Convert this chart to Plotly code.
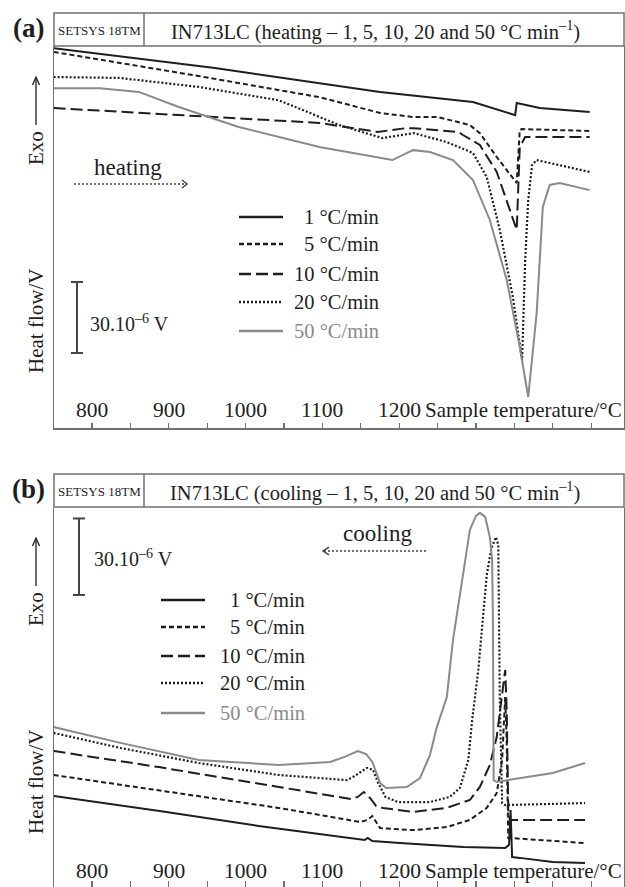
import plotly.graph_objects as go

W, H = 625, 887

# ---------------- data: temperature (°C) and heat flow (µV, relative) ----------------
rates = ["1 °C/min", "5 °C/min", "10 °C/min", "20 °C/min", "50 °C/min"]

# (a) heating
heat_T_1 = [750, 960, 1175, 1250, 1296, 1351, 1353, 1383, 1448]
heat_V_1 = [160.5, 152.1, 142.0, 139.4, 137.7, 132.2, 137.3, 135.2, 133.5]
heat_T_5 = [750, 939, 1096, 1175, 1218, 1250, 1292, 1305, 1327, 1348, 1353, 1357, 1360, 1448]
heat_V_5 = [158.9, 148.7, 139.8, 133.1, 131.4, 131.4, 128.0, 124.6, 114.5, 105.6, 103.5, 125.9, 126.3, 125.5]
heat_T_10 = [750, 1096, 1172, 1209, 1218, 1277, 1283, 1305, 1327, 1348, 1353, 1357, 1364, 1448]
heat_V_10 = [135.2, 128.9, 125.1, 126.7, 126.7, 125.1, 123.8, 119.6, 108.2, 87.9, 83.7, 118.7, 122.9, 122.9]
heat_T_20 = [750, 836, 939, 1043, 1122, 1178, 1219, 1262, 1296, 1314, 1331, 1348, 1360, 1364, 1368, 1373, 1379, 1448]
heat_V_20 = [148.3, 147.9, 144.1, 138.5, 128.0, 122.5, 124.6, 120.8, 116.2, 106.0, 83.7, 55.3, 28.7, 71.0, 96.3, 111.1, 113.2, 108.2]
heat_T_50 = [750, 810, 861, 913, 991, 1096, 1191, 1218, 1240, 1270, 1296, 1318, 1340, 1357, 1368, 1379, 1387, 1396, 1409, 1448]
heat_V_50 = [143.6, 143.6, 142.0, 135.6, 127.2, 118.7, 113.2, 117.4, 116.6, 113.2, 104.8, 87.9, 62.5, 34.2, 13.1, 48.6, 93.4, 102.7, 103.5, 100.5]

# (b) cooling
cool_T_1 = [750, 888, 1017, 1110, 1155, 1159, 1165, 1201, 1283, 1338, 1343, 1345, 1347, 1357, 1400, 1442]
cool_V_1 = [36.5, 30.6, 24.7, 20.8, 19.2, 20.0, 18.8, 18.0, 16.5, 16.1, 17.3, 31.0, 12.5, 12.2, 10.6, 10.2]
cool_T_5 = [750, 887, 1043, 1149, 1159, 1165, 1170, 1175, 1218, 1262, 1292, 1314, 1327, 1334, 1338, 1340, 1342, 1344, 1442]
cool_V_5 = [44.7, 38.8, 31.8, 26.3, 27.1, 28.6, 26.3, 23.9, 23.1, 24.3, 27.1, 31.8, 37.6, 50.6, 75.3, 57.3, 20.0, 20.0, 18.0]
cool_T_10 = [750, 887, 1043, 1137, 1146, 1154, 1162, 1170, 1179, 1218, 1262, 1292, 1305, 1318, 1327, 1334, 1338, 1340, 1342, 1344, 1442]
cool_V_10 = [54.1, 47.8, 40.0, 35.3, 36.1, 38.0, 35.7, 32.5, 31.8, 30.2, 31.8, 34.9, 40.0, 48.6, 59.6, 75.3, 85.9, 70.2, 31.0, 27.1, 27.1]
cool_T_20 = [750, 837, 939, 1043, 1132, 1142, 1158, 1166, 1172, 1182, 1198, 1240, 1266, 1279, 1290, 1295, 1303, 1309, 1314, 1320, 1326, 1329, 1330, 1331, 1334, 1338, 1442]
cool_V_20 = [61.2, 55.3, 49.4, 44.7, 42.7, 44.3, 47.5, 46.7, 42.0, 36.1, 34.1, 34.1, 36.1, 39.6, 50.6, 66.3, 85.9, 105.5, 123.1, 133.7, 138.0, 134.9, 109.4, 74.1, 33.7, 32.9, 33.7]
cool_T_50 = [750, 837, 939, 1043, 1110, 1129, 1146, 1157, 1165, 1175, 1183, 1210, 1227, 1240, 1249, 1262, 1270, 1279, 1292, 1300, 1305, 1312, 1318, 1321, 1322, 1323, 1327, 1400, 1442]
cool_V_50 = [63.5, 57.3, 50.6, 48.6, 49.8, 51.8, 54.1, 52.9, 49.8, 41.6, 39.6, 40.0, 43.5, 52.5, 63.5, 75.3, 97.6, 116.1, 140.8, 146.3, 147.5, 145.9, 138.0, 129.0, 105.5, 42.7, 42.0, 45.5, 49.4]

tick_vals = list(range(800, 1451, 50))
tick_labels = ["800", "900", "1000", "1100", "1200"]
scale_bar_uV = 30

# ---------------- styles ----------------
DARK = "#1e1e1e"
GREY = "#8a8a8a"
FRAME = "#707070"
FONT = "Liberation Serif, Times New Roman, serif"
styles = [
    dict(color=DARK, width=2.0, dash="solid"),
    dict(color=DARK, width=2.0, dash="5px,3px"),
    dict(color=DARK, width=2.0, dash="12px,5px"),
    dict(color=DARK, width=2.2, dash="2px,2px"),
    dict(color=GREY, width=2.0, dash="solid"),
]


def X(px):
    return px / W


def Y(py):
    return 1 - py / H


fig = go.Figure()
heat = [(heat_T_1, heat_V_1), (heat_T_5, heat_V_5), (heat_T_10, heat_V_10),
        (heat_T_20, heat_V_20), (heat_T_50, heat_V_50)]
cool = [(cool_T_1, cool_V_1), (cool_T_5, cool_V_5), (cool_T_10, cool_V_10),
        (cool_T_20, cool_V_20), (cool_T_50, cool_V_50)]
for i, (t, v) in enumerate(heat):
    fig.add_trace(go.Scatter(x=t, y=v, mode="lines", line=styles[i], name=rates[i],
                             xaxis="x", yaxis="y", showlegend=False))
for i, (t, v) in enumerate(cool):
    fig.add_trace(go.Scatter(x=t, y=v, mode="lines", line=styles[i], name=rates[i],
                             xaxis="x2", yaxis="y2", showlegend=False))

axis_common = dict(showgrid=False, zeroline=False, showline=True, linecolor=FRAME,
                   linewidth=1.5)
xr = [750.5, 1492.7]
fig.update_layout(
    width=W, height=H, autosize=False,
    margin=dict(l=0, r=0, t=0, b=0),
    paper_bgcolor="white", plot_bgcolor="white",
    font=dict(family=FONT, color=DARK, size=20),
    xaxis=dict(domain=[X(54), X(624)], range=xr, anchor="y", tickvals=tick_vals,
               ticks="inside", ticklen=5, tickcolor=FRAME, tickwidth=1.2,
               showticklabels=False, **axis_common),
    yaxis=dict(domain=[Y(428), Y(46)], range=[0, 161.4], anchor="x", mirror=True,
               showticklabels=False, ticks="", **axis_common),
    xaxis2=dict(domain=[X(54), X(624)], range=xr, anchor="y2", tickvals=tick_vals,
                ticks="inside", ticklen=6, tickcolor=FRAME, tickwidth=1.2,
                showticklabels=False, **axis_common),
    yaxis2=dict(domain=[0, Y(508)], range=[0.78, 149.4], anchor="x2", mirror=True,
                showticklabels=False, ticks="", **axis_common),
)

shapes = []
ann = []


def txt(x, y, text, size=20, color=DARK, xanchor="center", xref="paper", angle=0, **kw):
    ann.append(dict(x=x, y=y, xref=xref, yref="paper", text=text, showarrow=False,
                    xanchor=xanchor, yanchor="middle", textangle=angle,
                    font=dict(family=FONT, size=size, color=color), **kw))


def pline(x0, y0, x1, y1, color=DARK, width=1.5, dash="solid"):
    shapes.append(dict(type="line", xref="paper", yref="paper", x0=X(x0), y0=Y(y0),
                       x1=X(x1), y1=Y(y1), line=dict(color=color, width=width, dash=dash)))


def chevron(pts, color=DARK, width=1.5):
    path = "M " + " L ".join(f"{X(a):.5f},{Y(b):.5f}" for a, b in pts)
    shapes.append(dict(type="path", xref="paper", yref="paper", path=path,
                       line=dict(color=color, width=width)))


panels = [
    dict(off=0, tag="(a)", mode="heating", xa="x", ya="y",
         leg_x0=239, leg_x1=283, leg_tx=381, leg_rows=[217, 244, 274, 302, 331],
         bar_x=77, bar_v0=31.7, bar_tx=88, bar_ty=323),
    dict(off=461, tag="(b)", mode="cooling", xa="x2", ya="y2",
         leg_x0=161, leg_x1=205, leg_tx=307, leg_rows=[600, 627, 656, 683, 713],
         bar_x=79, bar_v0=115.3, bar_tx=92, bar_ty=558),
]

for p in panels:
    o = p["off"]
    # panel tag
    txt(X(29), Y(28 + o), f"<b>{p['tag']}</b>", size=27)
    # header box
    shapes.append(dict(type="rect", xref="paper", yref="paper", x0=X(54), x1=X(624),
                       y0=Y(46 + o), y1=Y(13 + o), line=dict(color=FRAME, width=1.5)))
    pline(144, 13 + o, 144, 46 + o, color=FRAME, width=1.5)
    txt(X(99), Y(30 + o), "SETSYS 18TM", size=13)
    txt(X(375), Y(30 + o),
        f"IN713LC ({p['mode']} – 1, 5, 10, 20 and 50 °C min<sup>–1</sup>)", size=20.5)
    # y label
    txt(X(36), Y(321 + o), "Heat flow/V", size=21, angle=-90)
    txt(X(36), Y(148 + o), "Exo", size=21, angle=-90)
    pline(36, 125 + o, 36, 78 + o, width=1.3)
    chevron([(32.5, 85 + o), (36, 77 + o), (39.5, 85 + o)], width=1.3)
    # x tick labels
    for lab in tick_labels:
        ann.append(dict(x=float(lab), y=Y(410 + o), xref=p["xa"], yref="paper", text=lab,
                        showarrow=False, xanchor="center", yanchor="middle",
                        font=dict(family=FONT, size=21.5, color=DARK)))
    txt(X(423), Y(410 + o), "Sample temperature/°C", size=21, xanchor="left")
    # legend
    for i, r in enumerate(rates):
        st = styles[i]
        ry = p["leg_rows"][i]
        pline(p["leg_x0"], ry, p["leg_x1"], ry, color=st["color"], width=2.6, dash=st["dash"])
        txt(X(p["leg_tx"]), Y(ry), r, size=20.5, color=st["color"], xanchor="right")
    # scale bar (30 µV in data units)
    bx = p["bar_x"]
    v0, v1 = p["bar_v0"], p["bar_v0"] + scale_bar_uV
    yr = p["ya"]
    shapes.append(dict(type="line", xref="paper", yref=yr, x0=X(bx), x1=X(bx), y0=v0, y1=v1,
                       line=dict(color="#444", width=2)))
    for vv in (v0, v1):
        shapes.append(dict(type="line", xref="paper", yref=yr, x0=X(bx - 6), x1=X(bx + 6),
                           y0=vv, y1=vv, line=dict(color="#444", width=2)))
    txt(X(p["bar_tx"]), Y(p["bar_ty"]), "30.10<sup>–6</sup> V", size=20, xanchor="left")

# heating arrow
txt(X(92), Y(168), "heating", size=23, xanchor="left")
pline(74, 184, 186, 184, color="#444", width=1.5, dash="2px,2px")
chevron([(182, 180), (187, 184), (182, 188)], color="#444", width=1.5)

# cooling arrow
txt(X(341), Y(533), "cooling", size=23, xanchor="left")
pline(324, 551, 426, 551, color="#444", width=1.5, dash="2px,2px")
chevron([(329, 547), (323, 551), (329, 555)], color="#444", width=1.5)

fig.update_layout(shapes=shapes, annotations=ann)
fig.write_html(
    "out.html",
    config={"displayModeBar": False, "staticPlot": True},
    post_script="document.body.style.margin='0';document.body.style.overflow='hidden';",
)
